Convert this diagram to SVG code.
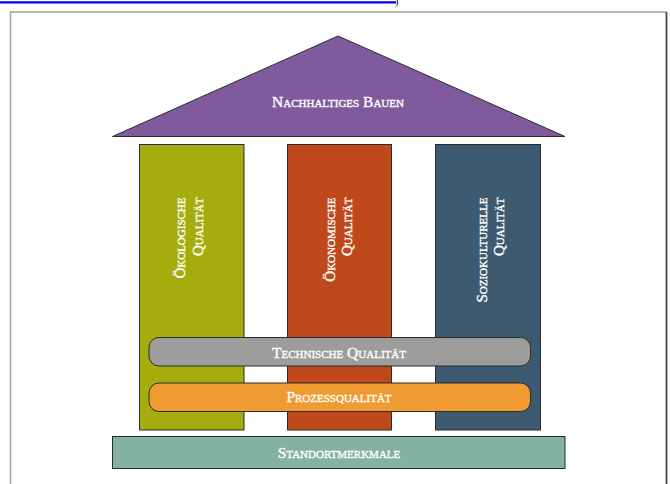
<svg xmlns="http://www.w3.org/2000/svg" width="670" height="484" viewBox="0 0 670 484">
<style>
.lbl{font-family:"Liberation Serif","DejaVu Serif",serif;font-variant:small-caps;fill:#ffffff;stroke:#ffffff;stroke-width:0.35;}
.bar{font-size:15.5px;text-anchor:middle;}
.pil{font-size:15px;text-anchor:end;}
.shape{stroke:#2b2b2b;stroke-width:1;}
</style>
<rect width="670" height="484" fill="#ffffff"/>
<line x1="0" y1="2.4" x2="396" y2="2.4" stroke="#0000ee" stroke-width="2.4"/>
<text x="395" y="5" font-family="Liberation Serif, serif" font-size="10" fill="#000">)</text>
<g id="frame">
<path d="M10.5 490 V12 H666.5" fill="none" stroke="#a0a0a0" stroke-width="1.5"/>
<line x1="666.5" y1="12" x2="666.5" y2="490" stroke="#444" stroke-width="1.8"/>
</g>
<g id="roof">
<polygon class="shape" points="338,36 112.5,136.5 565,136.5" fill="#7f5b9d"/>
<text class="lbl bar" x="338" y="107">Nachhaltiges Bauen</text>
</g>
<g id="pillar-oekologisch">
<rect class="shape" x="139.5" y="144.5" width="104.5" height="285.5" fill="#a5ad0e"/>
<text class="lbl pil" transform="translate(185,197.5) rotate(-90)"><tspan x="0" y="0">Ökologische</tspan><tspan x="0" y="18">Qualität</tspan></text>
</g>
<g id="pillar-oekonomisch">
<rect class="shape" x="287.5" y="144.5" width="104" height="285.5" fill="#c0491b"/>
<text class="lbl pil" transform="translate(335,197.5) rotate(-90)"><tspan x="0" y="0">Ökonomische</tspan><tspan x="0" y="17">Qualität</tspan></text>
</g>
<g id="pillar-soziokulturell">
<rect class="shape" x="435.5" y="144.5" width="105" height="285.5" fill="#3e5a71"/>
<text class="lbl pil" transform="translate(487,197.5) rotate(-90)"><tspan x="0" y="0">Soziokulturelle</tspan><tspan x="0" y="17">Qualität</tspan></text>
</g>
<g id="technische-qualitaet">
<rect class="shape" x="149" y="337.5" width="381.5" height="28.5" rx="10" fill="#9d9d9b"/>
<text class="lbl bar" x="339" y="357.5">Technische Qualität</text>
</g>
<g id="prozessqualitaet">
<rect class="shape" x="149" y="383" width="381.5" height="28.5" rx="10" fill="#f09a32"/>
<text class="lbl bar" x="339" y="402">Prozessqualität</text>
</g>
<g id="standortmerkmale">
<rect class="shape" x="112.5" y="436.5" width="452.5" height="32" fill="#83b1a3"/>
<text class="lbl bar" x="339" y="458">Standortmerkmale</text>
</g>
<g id="connectors"></g>
</svg>
